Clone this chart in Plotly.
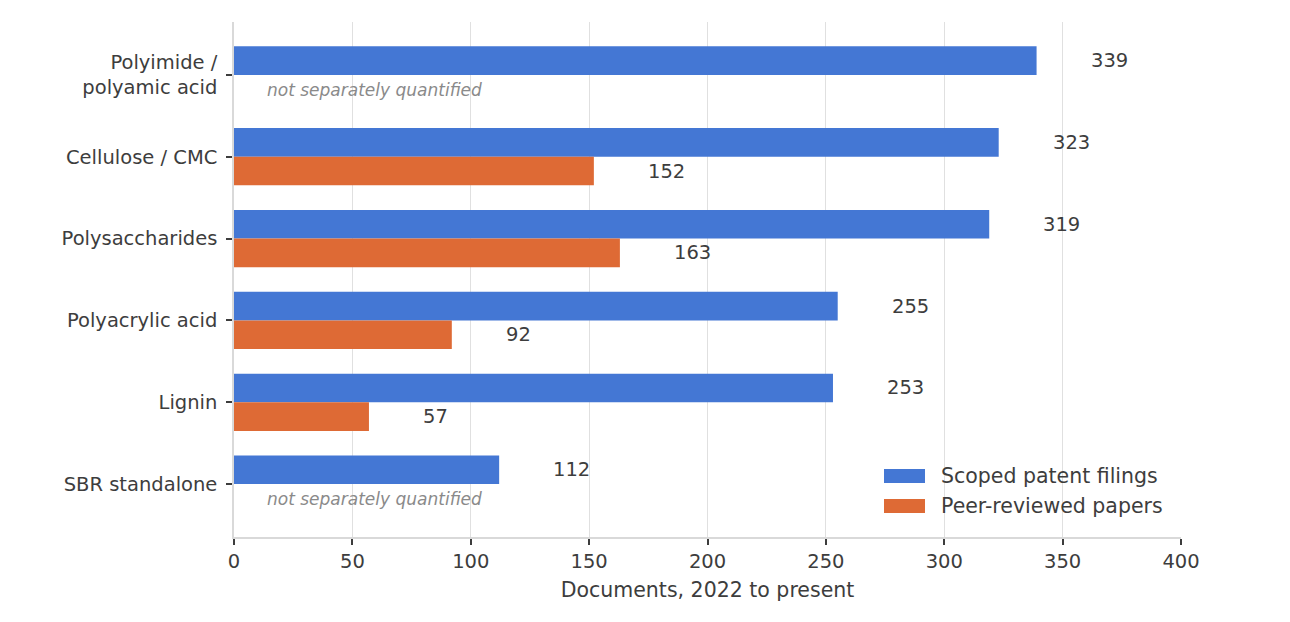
import plotly.graph_objects as go

categories = ["Polyimide /<br>polyamic acid", "Cellulose / CMC", "Polysaccharides",
              "Polyacrylic acid", "Lignin", "SBR standalone"]
patents = [339, 323, 319, 255, 253, 112]
papers = [None, 152, 163, 92, 57, None]

blue = "#4477d4"
orange = "#de6a35"
ink = "#3d3d3d"
font_main = "DejaVu Sans"

fig = go.Figure()
fig.add_trace(go.Bar(y=categories, x=patents, orientation="h", name="Scoped patent filings",
                     marker=dict(color=blue, line=dict(width=0)), showlegend=False))
fig.add_trace(go.Bar(y=categories, x=papers, orientation="h", name="Peer-reviewed papers",
                     marker=dict(color=orange, line=dict(width=0)), showlegend=False))

# value labels and notes
for i, (p, q) in enumerate(zip(patents, papers)):
    fig.add_annotation(x=p, y=i - 0.175, text=str(p), xanchor="left", showarrow=False,
                       xshift=52, font=dict(size=19.5, color=ink))
    if q is None:
        fig.add_annotation(x=0, y=i + 0.175, text="<i>not separately quantified</i>",
                           xanchor="left", showarrow=False, xshift=31, yshift=-1,
                           font=dict(size=17, color="#8a8a8a"))
    else:
        fig.add_annotation(x=q, y=i + 0.175, text=str(q), xanchor="left", showarrow=False,
                           xshift=52, font=dict(size=19.5, color=ink))

# legend drawn by hand (wide patches like the original)
legend_items = [("Scoped patent filings", blue), ("Peer-reviewed papers", orange)]
for k, (label, col) in enumerate(legend_items):
    yc = 476 + 30 * k
    fig.add_shape(type="rect", xref="paper", yref="paper",
                  x0=(884 - 234) / 947, x1=(925 - 234) / 947,
                  y0=(537 - (yc + 7)) / 515, y1=(537 - (yc - 7)) / 515,
                  fillcolor=col, line=dict(width=0), layer="above")
    fig.add_annotation(xref="paper", yref="paper", x=(939 - 234) / 947, y=(537 - yc) / 515,
                       text=label, xanchor="left", yanchor="middle", showarrow=False,
                       font=dict(size=20.5, color=ink))

fig.update_layout(
    width=1290, height=622,
    barmode="group", bargap=0.3, bargroupgap=0,
    margin=dict(l=226, r=117, t=14, b=93),
    plot_bgcolor="white", paper_bgcolor="white",
    font=dict(family=font_main, size=19.5, color=ink),
    showlegend=False,
    xaxis=dict(range=[0, 400], tickvals=[0, 50, 100, 150, 200, 250, 300, 350, 400],
               showgrid=True, gridcolor="#e0e0e0", gridwidth=1,
               showline=True, linecolor="#d9d9d9", linewidth=1.5,
               ticks="outside", ticklen=6, tickwidth=1.5, tickcolor=ink,
               zeroline=False,
               title=dict(text="Documents, 2022 to present", standoff=10,
                          font=dict(size=20.5, color=ink)),
               tickfont=dict(size=19.5, color=ink)),
    yaxis=dict(range=[5.646, -0.646], showgrid=False,
               showline=True, linecolor="#d9d9d9", linewidth=1.5,
               ticks="outside", ticklen=6, tickwidth=1.5, tickcolor=ink,
               ticklabelstandoff=5, tickfont=dict(size=19.5, color=ink)),
)

fig.write_html("out.html")
